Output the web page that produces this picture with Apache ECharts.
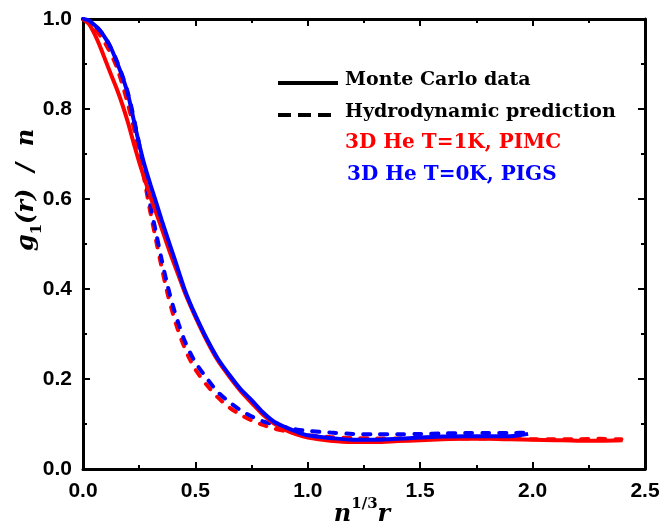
<!DOCTYPE html>
<html><head><meta charset="utf-8">
<script src="https://cdn.jsdelivr.net/npm/echarts@6/dist/echarts.min.js"></script>
<style>html,body{margin:0;padding:0;background:#fff}#c{width:663px;height:527px}</style>
</head><body><div id="c"></div>
<script>
// ---- data ----
const xTickLabels = ['0.0','0.5','1.0','1.5','2.0','2.5'];
const yTickLabels = ['0.0','0.2','0.4','0.6','0.8','1.0'];

const mc1K_x = [0,0.025,0.05,0.075,0.1,0.125,0.15,0.175,0.2,0.225,0.25,0.275,0.3,0.325,0.35,0.375,0.4,0.425,0.45,0.475,0.5,0.55,0.6,0.65,0.7,0.75,0.8,0.85,0.9,0.95,1.0,1.1,1.2,1.3,1.4,1.5,1.6,1.7,1.8,1.9,2.0,2.1,2.2,2.3,2.4];
const mc1K_y = [1.0,0.99,0.968,0.94,0.908,0.876,0.845,0.81,0.77,0.725,0.682,0.643,0.605,0.57,0.535,0.498,0.463,0.43,0.396,0.366,0.338,0.286,0.241,0.206,0.174,0.147,0.121,0.101,0.087,0.077,0.07,0.063,0.06,0.06,0.062,0.064,0.066,0.067,0.067,0.066,0.065,0.064,0.063,0.063,0.064];

const mc0K_x = [0,0.025,0.05,0.075,0.1,0.125,0.15,0.175,0.2,0.225,0.25,0.275,0.3,0.325,0.35,0.375,0.4,0.425,0.45,0.475,0.5,0.55,0.6,0.65,0.7,0.75,0.8,0.85,0.9,0.95,1.0,1.1,1.2,1.3,1.4,1.5,1.6,1.7,1.8,1.9,1.98];
const mc0K_y = [1.0,0.997,0.987,0.975,0.957,0.935,0.905,0.872,0.833,0.777,0.722,0.673,0.632,0.593,0.553,0.515,0.478,0.44,0.402,0.37,0.342,0.29,0.245,0.21,0.178,0.153,0.126,0.105,0.093,0.083,0.075,0.069,0.065,0.065,0.067,0.07,0.072,0.073,0.073,0.073,0.078];

const hydro1K_x = [0,0.05,0.1,0.15,0.2,0.25,0.275,0.3,0.325,0.35,0.375,0.4,0.425,0.45,0.475,0.5,0.55,0.6,0.65,0.7,0.75,0.8,0.85,0.9,0.95,1.0,1.1,1.2,1.3,1.4,1.5,1.6,1.7,1.8,1.9,2.0,2.1,2.2,2.3,2.395];
const hydro1K_y = [1.0,0.98,0.945,0.893,0.81,0.705,0.637,0.57,0.508,0.448,0.392,0.345,0.305,0.272,0.244,0.221,0.187,0.159,0.137,0.121,0.108,0.098,0.09,0.084,0.079,0.075,0.071,0.069,0.068,0.068,0.068,0.068,0.068,0.068,0.067,0.066,0.066,0.066,0.067,0.066];

const hydro0K_x = [0,0.05,0.1,0.15,0.2,0.25,0.275,0.3,0.325,0.35,0.375,0.4,0.425,0.45,0.475,0.5,0.55,0.6,0.65,0.7,0.75,0.8,0.85,0.9,0.95,1.0,1.1,1.2,1.3,1.4,1.5,1.6,1.7,1.8,1.9,1.99];
const hydro0K_y = [1.0,0.987,0.958,0.907,0.835,0.722,0.652,0.585,0.525,0.465,0.41,0.363,0.323,0.288,0.26,0.237,0.202,0.171,0.149,0.131,0.117,0.106,0.099,0.093,0.088,0.085,0.081,0.078,0.077,0.077,0.078,0.079,0.08,0.08,0.08,0.081];

const legendLabels = ['Monte Carlo data','Hydrodynamic prediction','3D He T=1K, PIMC','3D He T=0K, PIGS'];

// ---- chart ----
const RED = '#ff0000', BLUE = '#0000ff';
const pairs = (xs, ys) => xs.map((x, i) => [x, ys[i]]);
const chart = echarts.init(document.getElementById('c'));

const tickFont = {fontFamily:'"Liberation Sans", Arial, sans-serif', fontWeight:'bold', fontSize:21, color:'#000'};
const axisCommon = {
  axisLine:{show:true, onZero:false, lineStyle:{color:'#000', width:3}},
  axisTick:{show:true, inside:true, length:7, lineStyle:{color:'#000', width:2}},
  minorTick:{show:true, splitNumber:2, length:4, lineStyle:{color:'#000', width:2}},
  splitLine:{show:false}, minorSplitLine:{show:false}
};
const serifItalic = '"DejaVu Serif", "Liberation Serif", serif';
const legFont = (s) => 'bold ' + s + 'px "DejaVu Serif", serif';

chart.setOption({
  animation:false,
  backgroundColor:'#fff',
  grid:{left:83, right:18, top:19, bottom:58, containLabel:false},
  xAxis:[
    Object.assign({type:'value', min:0, max:2.5, interval:0.5, position:'bottom',
      axisLabel:Object.assign({margin:12, formatter:(v)=>xTickLabels[Math.round(v/0.5)]}, tickFont)}, axisCommon),
    Object.assign({type:'value', min:0, max:2.5, interval:0.5, position:'top', axisLabel:{show:false}}, axisCommon)
  ],
  yAxis:[
    Object.assign({type:'value', min:0, max:1.0, interval:0.2, position:'left',
      axisLabel:Object.assign({margin:11, formatter:(v)=>yTickLabels[Math.round(v/0.2)]}, tickFont)}, axisCommon),
    Object.assign({type:'value', min:0, max:1.0, interval:0.2, position:'right', axisLabel:{show:false}}, axisCommon)
  ],
  series:[
    {type:'line', data:pairs(hydro1K_x, hydro1K_y), showSymbol:false, smooth:0.3, lineStyle:{color:RED, width:4, type:[7,10], cap:'round'}, z:2},
    {type:'line', data:pairs(hydro0K_x, hydro0K_y), showSymbol:false, smooth:0.3, lineStyle:{color:BLUE, width:4, type:[7,10], cap:'round'}, z:3},
    {type:'line', data:pairs(mc1K_x, mc1K_y), showSymbol:false, smooth:0.3, lineStyle:{color:RED, width:4}, z:4},
    {type:'line', data:pairs(mc0K_x, mc0K_y), showSymbol:false, smooth:0.3, lineStyle:{color:BLUE, width:4}, z:5}
  ],
  graphic:[
    {type:'line', shape:{x1:278, y1:83, x2:338, y2:83}, style:{stroke:'#000', lineWidth:4}},
    {type:'line', shape:{x1:278, y1:115, x2:334, y2:115}, style:{stroke:'#000', lineWidth:4, lineDash:[13,7]}},
    {type:'text', left:345, top:71, style:{text:legendLabels[0], font:legFont(19), fill:'#000'}},
    {type:'text', left:345, top:103, style:{text:legendLabels[1], font:legFont(19), fill:'#000'}},
    {type:'text', left:345, top:133, style:{text:legendLabels[2], font:legFont(20), fill:RED}},
    {type:'text', left:347, top:165, style:{text:legendLabels[3], font:legFont(20), fill:BLUE}},
    {type:'text', x:24, y:190, rotation:Math.PI/2,
      style:{text:'{i|g}{s|1}{i|(r)  /  n}', align:'center', verticalAlign:'middle',
        rich:{i:{fontFamily:serifItalic, fontStyle:'italic', fontWeight:'bold', fontSize:24, fill:'#000', verticalAlign:'bottom', lineHeight:30},
              s:{fontFamily:serifItalic, fontWeight:'bold', fontSize:15, fill:'#000', verticalAlign:'bottom', lineHeight:30, padding:[0,0,-6,0]}}}},
    {type:'text', x:362, y:512,
      style:{text:'{i|n}{s|1/3}{i|r}', align:'center', verticalAlign:'middle',
        rich:{i:{fontFamily:serifItalic, fontStyle:'italic', fontWeight:'bold', fontSize:24, fill:'#000', verticalAlign:'bottom', lineHeight:30},
              s:{fontFamily:serifItalic, fontWeight:'bold', fontSize:15, fill:'#000', verticalAlign:'top', lineHeight:30}}}}
  ]
});
</script></body></html>
